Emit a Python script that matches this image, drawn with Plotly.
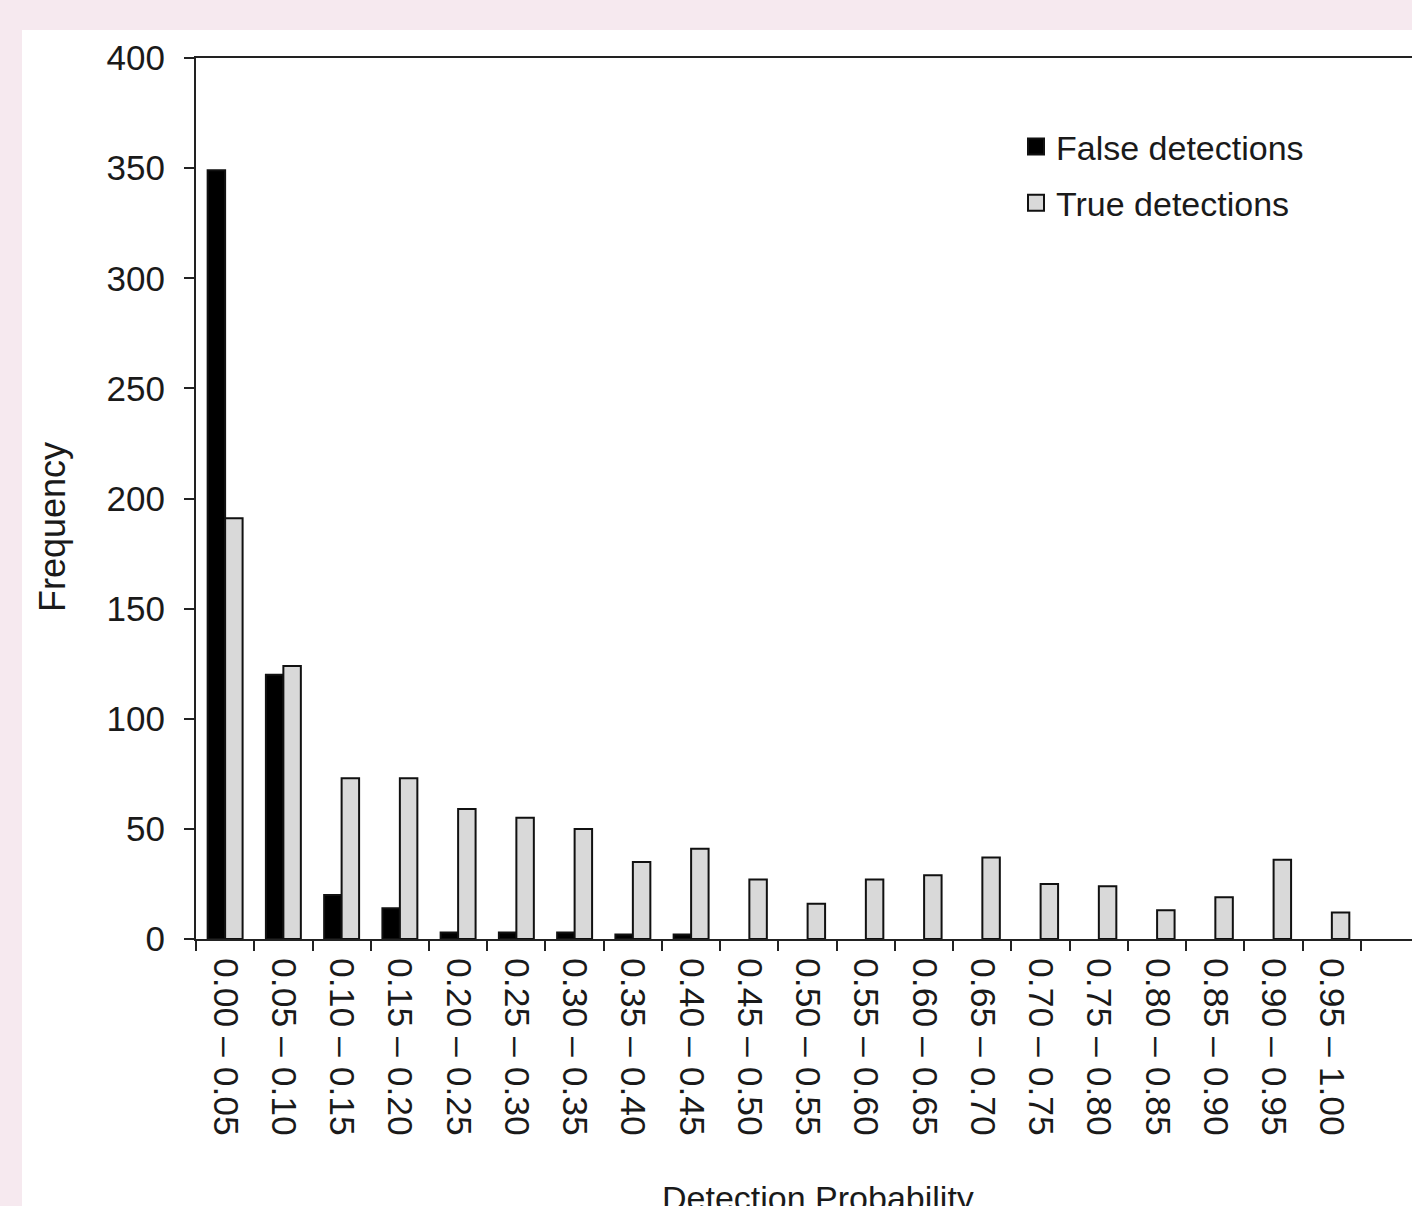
import plotly.graph_objects as go

# Detection-probability bins and counts per bin
bins = ["0.00 – 0.05", "0.05 – 0.10", "0.10 – 0.15", "0.15 – 0.20", "0.20 – 0.25",
        "0.25 – 0.30", "0.30 – 0.35", "0.35 – 0.40", "0.40 – 0.45", "0.45 – 0.50",
        "0.50 – 0.55", "0.55 – 0.60", "0.60 – 0.65", "0.65 – 0.70", "0.70 – 0.75",
        "0.75 – 0.80", "0.80 – 0.85", "0.85 – 0.90", "0.90 – 0.95", "0.95 – 1.00"]
false_detections = [349, 120, 20, 14, 3, 3, 3, 2, 2, 0, 0, 0, 0, 0, 0, 0, 0, 0, 0, 0]
true_detections = [191, 124, 73, 73, 59, 55, 50, 35, 41, 27, 16, 27, 29, 37, 25, 24, 13, 19, 36, 12]
y_ticks = [0, 50, 100, 150, 200, 250, 300, 350, 400]

FONT = "Liberation Sans, Arial, sans-serif"
INK = "#1a1a1a"
EDGE = "#111111"
GREY = "#d9d9d9"


def outline_widths(values):
    # empty bins get no outline so nothing is drawn on the baseline
    return [2 if v > 0 else 0 for v in values]


fig = go.Figure()
fig.add_trace(go.Bar(
    x=bins, y=false_detections, name="False detections", showlegend=False,
    marker=dict(color="#000000", line=dict(color=EDGE, width=outline_widths(false_detections))),
))
fig.add_trace(go.Bar(
    x=bins, y=true_detections, name="True detections", showlegend=False,
    marker=dict(color=GREY, line=dict(color=EDGE, width=outline_widths(true_detections))),
))

# legend entries with larger square swatches
for name, fill, grp in [("False detections", "#000000", "f"), ("True detections", GREY, "t")]:
    fig.add_trace(go.Scatter(
        x=[None], y=[None], mode="markers", name=name, legendgroup=grp,
        marker=dict(symbol="square", size=18, color=fill, line=dict(color=EDGE, width=2)),
    ))

W, H = 1412, 1206
L, R, T, B = 196, 0, 58, 267
pw, ph = W - L - R, H - T - B


def px_x(p):
    return (p - L) / pw


def px_y(p):
    return (H - B - p) / ph


# white chart panel on the pink page
fig.add_shape(type="rect", xref="paper", yref="paper",
              x0=px_x(22), x1=px_x(1420), y0=px_y(1215), y1=px_y(30),
              fillcolor="white", line=dict(width=0), layer="below")

# axis titles
fig.add_annotation(text="Frequency", xref="paper", yref="paper",
                   x=px_x(52), y=px_y(527), textangle=-90, showarrow=False,
                   xanchor="center", yanchor="middle",
                   font=dict(family=FONT, size=36, color=INK))
fig.add_annotation(text="Detection Probability", xref="paper", yref="paper",
                   x=px_x(818), y=px_y(1198), showarrow=False,
                   xanchor="center", yanchor="middle",
                   font=dict(family=FONT, size=34, color=INK))

fig.update_layout(
    width=W, height=H,
    margin=dict(l=L, r=R, t=T, b=B, pad=0),
    paper_bgcolor="#f6e9ef",
    plot_bgcolor="white",
    barmode="group", bargap=0.4, bargroupgap=0,
    font=dict(family=FONT, size=34, color=INK),
    showlegend=True,
    legend=dict(x=px_x(1016), y=px_y(118), xanchor="left", yanchor="top",
                bgcolor="rgba(0,0,0,0)", font=dict(size=34, color=INK),
                tracegroupgap=9, traceorder="grouped", itemsizing="trace"),
    xaxis=dict(
        range=[-0.5, 20.376], type="category",
        showline=True, linecolor="#222", linewidth=2, mirror=True,
        ticks="outside", ticklen=10, tickwidth=2, tickcolor="#222",
        tickson="boundaries", tickangle=90, ticklabelstandoff=10,
        tickfont=dict(size=35.5, color=INK), showgrid=False,
        automargin=False,
    ),
    yaxis=dict(
        range=[0, 400], tickvals=y_ticks,
        showline=True, linecolor="#222", linewidth=2,
        ticks="outside", ticklen=10, tickwidth=2, tickcolor="#222",
        tickfont=dict(size=35, color=INK), showgrid=False, zeroline=False,
        ticklabelstandoff=12,
        automargin=False,
    ),
)

fig.write_html("out.html")
